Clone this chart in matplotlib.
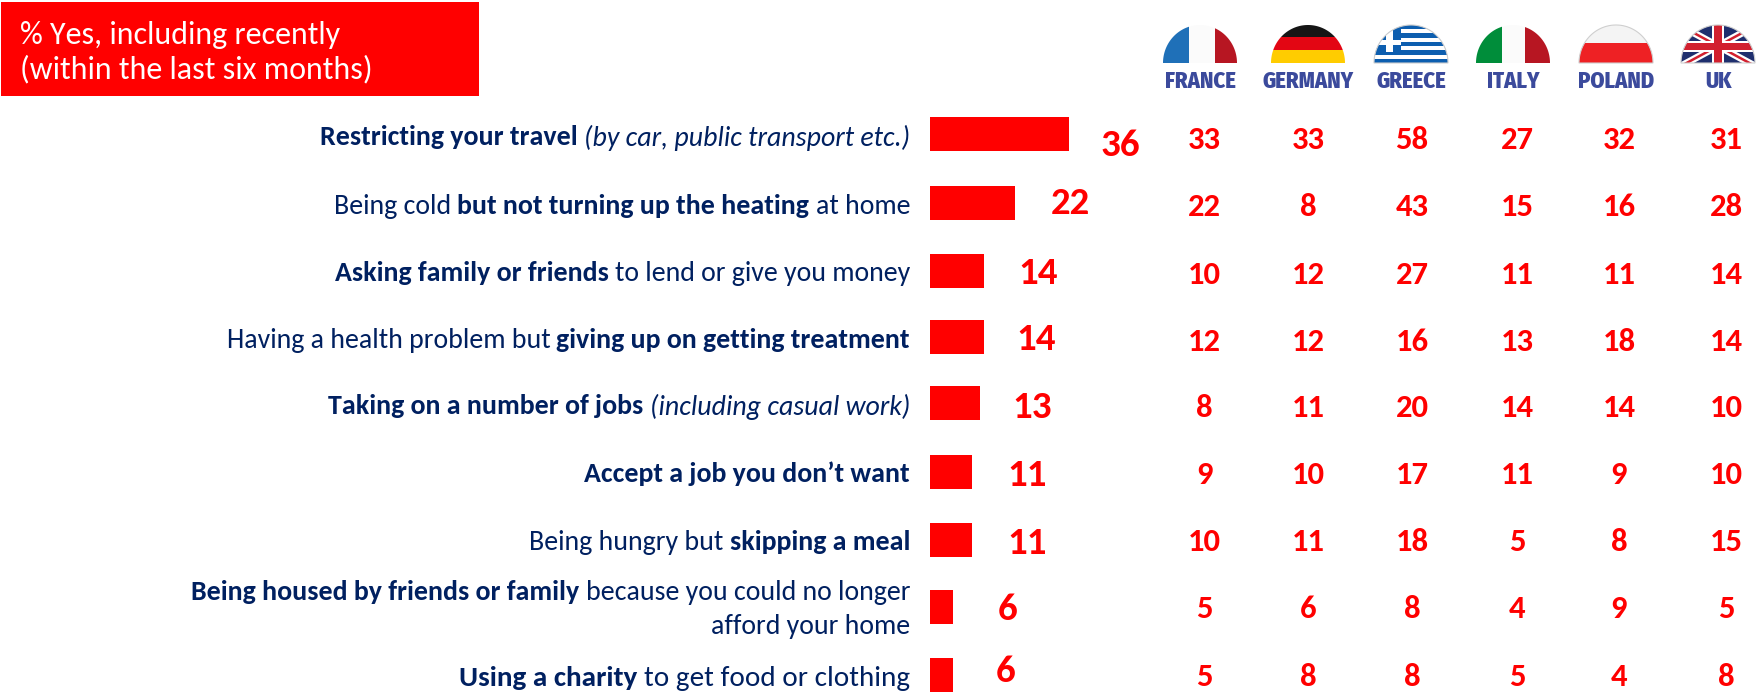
#!/usr/bin/env python3
"""Share of people cutting back, overall and by country"""

import numpy as np
import matplotlib
matplotlib.use('Agg')
import matplotlib.pyplot as plt
from matplotlib.patches import PathPatch, Rectangle
from matplotlib.path import Path

W, H = 1757, 695
RED = '#ff0000'
NAVY = '#002060'
FLAG_BLUE = '#3b4a9c'

header = ['% Yes, including recently', '(within the last six months)']

# each row: lines of (text, style) runs, r = regular, b = bold, i = italic
row_labels = [
    [[('Restricting your travel ', 'b'), ('(by car, public transport etc.)', 'i')]],
    [[('Being cold ', 'r'), ('but not turning up the heating ', 'b'), ('at home', 'r')]],
    [[('Asking family or friends ', 'b'), ('to lend or give you money', 'r')]],
    [[('Having a health problem but ', 'r'), ('giving up on getting treatment', 'b')]],
    [[('Taking on a number of jobs ', 'b'), ('(including casual work)', 'i')]],
    [[('Accept a job you don\u2019t want', 'b')]],
    [[('Being hungry but ', 'r'), ('skipping a meal', 'b')]],
    [[('Being housed by friends or family ', 'b'), ('because you could no longer', 'r')],
     [('afford your home', 'r')]],
    [[('Using a charity ', 'b'), ('to get food or clothing', 'r')]],
]
totals = [36, 22, 14, 14, 13, 11, 11, 6, 6]

countries = ['FRANCE', 'GERMANY', 'GREECE', 'ITALY', 'POLAND', 'UK']
france = [33, 22, 10, 12, 8, 9, 10, 5, 5]
germany = [33, 8, 12, 12, 11, 10, 11, 6, 8]
greece = [58, 43, 27, 16, 20, 17, 18, 8, 8]
italy = [27, 15, 11, 13, 14, 11, 5, 4, 5]
poland = [32, 16, 11, 18, 14, 9, 8, 9, 4]
uk = [31, 28, 14, 14, 10, 10, 15, 5, 8]
country_values = [france, germany, greece, italy, poland, uk]

# layout, in reference pixels
bar_y = [134, 203, 271, 337, 403, 472, 540, 607, 675]
label_y = [135, 204, 271, 338, 404, 472, 540, 607, 676]
label_size = [20.1, 20.1, 20.1, 20.1, 20.1, 20.1, 20.1, 20.1, 21.0]
total_x = [1120, 1070, 1038, 1036, 1032, 1027, 1027, 1008, 1006]
total_y = [145, 204, 274, 340, 408, 476, 543, 610, 672]
value_y = [140, 207, 275, 342, 408, 475, 542, 609, 677]
column_x = [1204, 1308, 1412, 1517, 1619, 1726]
flag_x = [1200, 1308, 1411, 1513, 1616, 1718]
BAR_LEFT = 930
PX_PER_UNIT = 3.86
LABEL_RIGHT = 910

plt.rcParams['font.family'] = ['Carlito', 'Lato', 'DejaVu Sans']

fig = plt.figure(figsize=(W / 100, H / 100), dpi=100, facecolor='white')

# pixel canvas for everything that is not a bar
ax = fig.add_axes([0, 0, 1, 1], zorder=2)
ax.set_xlim(0, W)
ax.set_ylim(H, 0)
ax.axis('off')
ax.patch.set_alpha(0)

# bars on their own value scale
bar_ax = fig.add_axes([0, 0, 1, 1], zorder=1)
bar_ax.set_xlim(-BAR_LEFT / PX_PER_UNIT, (W - BAR_LEFT) / PX_PER_UNIT)
bar_ax.set_ylim(H, 0)
bar_ax.axis('off')
bar_ax.barh(bar_y, totals, height=34, color=RED)


def draw_runs(runs, right, y, size):
    """Right aligned line made of differently styled runs"""
    renderer = fig.canvas.get_renderer()
    x = right
    for text, style in reversed(runs):
        t = ax.text(x, y, text.replace(' ', '\u00a0'), ha='right', va='center_baseline', color=NAVY,
                    fontsize=size,
                    fontweight='bold' if style == 'b' else 'normal',
                    fontstyle='italic' if style == 'i' else 'normal')
        x -= t.get_window_extent(renderer).width


def draw_flag(name, cx):
    """Half dome flag, stripes are clipped to the dome"""
    left, right, top, bottom = cx - 37, cx + 37, 25, 63
    w, h = right - left, bottom - top
    a = np.linspace(np.pi, 0, 80)
    dome = np.column_stack([cx + 37 * np.cos(a), bottom - h * np.sin(a)])
    edge = '#cfcfcf' if name in ('GREECE', 'POLAND', 'UK') else 'none'
    clip = PathPatch(Path(np.vstack([dome, dome[0]]), closed=True), transform=ax.transData,
                     fc='none', ec=edge, lw=0.8, zorder=4)
    ax.add_patch(clip)
    parts = []
    if name == 'FRANCE':
        parts = [(left, top, 26, h, '#1f70b8'), (left + 26, top, 26, h, '#fbfbfb'), (left + 52, top, 22, h, '#b71622')]
    elif name == 'GERMANY':
        parts = [(left, top, w, 12, '#151515'), (left, top + 12, w, 13, '#e30613'), (left, top + 25, w, 13, '#ffcc00')]
    elif name == 'GREECE':
        parts = [(left, top, w, h, '#0d5eaf')]
        for k in range(1, 9, 2):
            parts.append((left, top + k * h / 9, w, h / 9, 'white'))
        parts += [(left, top, 27, 27, '#0d5eaf'), (left + 12, top, 7, 27, 'white'), (left, top + 15, 27, 5, 'white')]
    elif name == 'ITALY':
        parts = [(left, top, 26, h, '#008d3a'), (left + 26, top, 23, h, '#fbfbfb'), (left + 49, top, 25, h, '#b71622')]
    elif name == 'POLAND':
        parts = [(left, top, w, 18, '#f4f4f4'), (left, top + 18, w, 20, '#ee2124')]
    elif name == 'UK':
        parts = [(left, top, w, h, '#1f2f6e')]
    for x0, y0, pw, ph, col in parts:
        r = Rectangle((x0, y0), pw, ph, fc=col, ec='none', zorder=3)
        ax.add_patch(r)
        r.set_clip_path(clip.get_path(), ax.transData)
    if name == 'UK':
        mid = 46
        span = 20
        arms = [((left, mid - span), (right, mid + span), 'white', 7), ((left, mid + span), (right, mid - span), 'white', 7),
                ((left, mid - span), (right, mid + span), '#d2202f', 2.5), ((left, mid + span), (right, mid - span), '#d2202f', 2.5),
                ((left, mid), (right, mid), 'white', 11), ((cx, top), (cx, bottom), 'white', 12),
                ((left, mid), (right, mid), '#d2202f', 7), ((cx, top), (cx, bottom), '#d2202f', 8)]
        for p0, p1, col, lw in arms:
            line, = ax.plot([p0[0], p1[0]], [p0[1], p1[1]], color=col, lw=lw * 0.72, zorder=3, solid_capstyle='butt')
            line.set_clip_path(clip.get_path(), ax.transData)


# header box
ax.add_patch(Rectangle((1, 2), 478, 94, fc=RED, ec='none'))
ax.text(20, 44, header[0], color='white', fontsize=23, va='baseline')
ax.text(20, 78, header[1], color='white', fontsize=23, va='baseline')

# row labels
for lines, y, size in zip(row_labels, label_y, label_size):
    if len(lines) == 1:
        draw_runs(lines[0], LABEL_RIGHT, y, size)
    else:
        draw_runs(lines[0], LABEL_RIGHT, y - 17, size)
        draw_runs(lines[1], LABEL_RIGHT, y + 17, size)

# overall values next to the bars
for value, x, y in zip(totals, total_x, total_y):
    ax.text(x, y, str(value), color=RED, fontsize=28, fontweight='bold', ha='center', va='center')

# country columns
for name, fx, cx, values in zip(countries, flag_x, column_x, country_values):
    draw_flag(name, fx)
    ax.text(fx, 81, name, color=FLAG_BLUE, fontsize=16.2, fontweight=800, ha='center', va='center',
            family=['Fira Sans Condensed', 'Liberation Sans'])
    for value, y in zip(values, value_y):
        ax.text(cx, y, str(value), color=RED, fontsize=23.5, fontweight='bold', ha='center', va='center')

fig.savefig('out.png', dpi=100, facecolor='white')
